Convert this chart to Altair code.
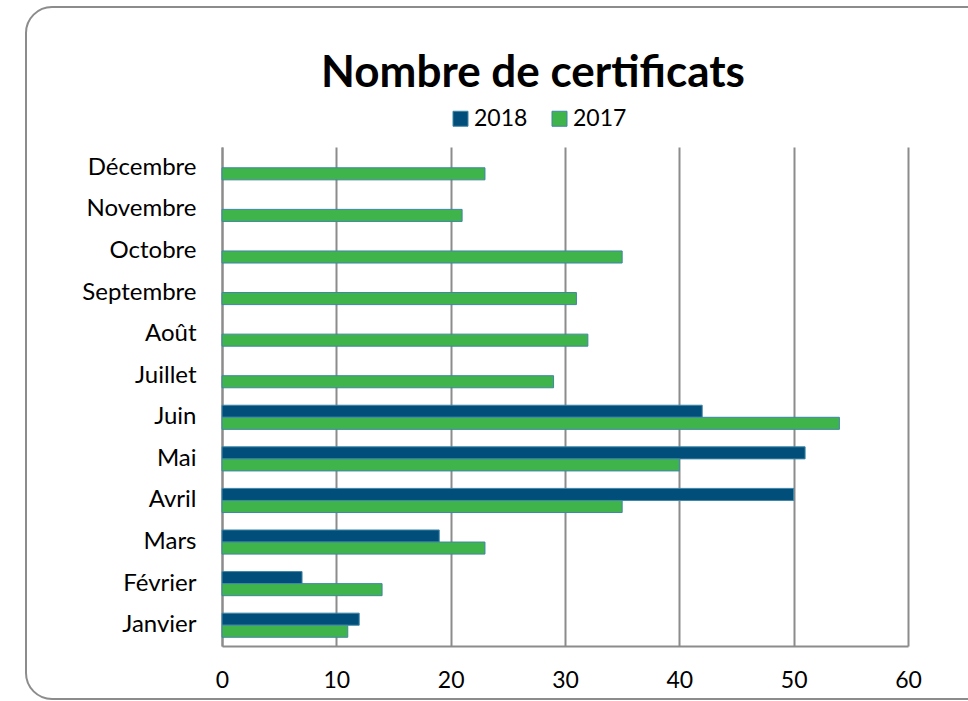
import altair as alt
import pandas as pd

months = ["Janvier", "Février", "Mars", "Avril", "Mai", "Juin",
          "Juillet", "Août", "Septembre", "Octobre", "Novembre", "Décembre"]
v2018 = [12, 7, 19, 50, 51, 42, None, None, None, None, None, None]
v2017 = [11, 14, 23, 35, 40, 54, 29, 32, 31, 35, 21, 23]
series = ["2018", "2017"]
x_ticks = [0, 10, 20, 30, 40, 50, 60]
title_text = "Nombre de certificats"

rows = []
for m, a, b in zip(months, v2018, v2017):
    if a is not None:
        rows.append({"mois": m, "annee": "2018", "valeur": a})
    rows.append({"mois": m, "annee": "2017", "valeur": b})
df = pd.DataFrame(rows)

FONT = "Lato"

bars = alt.Chart(df).mark_bar(stroke="#3f86a6", strokeWidth=1).encode(
    x=alt.X("valeur:Q", scale=alt.Scale(domain=[0, 60], nice=False),
            axis=alt.Axis(values=x_ticks, title=None, grid=True, gridColor="#8c8c8c",
                          gridWidth=2, domain=True, domainColor="#8c8c8c", domainWidth=2,
                          ticks=False, labelFontSize=23, labelPadding=23, labelFont=FONT,
                          labelFlush=False, labelColor="#000000")),
    y=alt.Y("mois:N", sort=months[::-1],
            scale=alt.Scale(paddingInner=0.42, paddingOuter=0.21),
            axis=alt.Axis(title=None, domain=True, domainColor="#8c8c8c", domainWidth=2,
                          ticks=False, labelFontSize=24, labelPadding=26, labelFont=FONT,
                          labelColor="#000000")),
    yOffset=alt.YOffset("annee:N", sort=series),
    color=alt.Color("annee:N", sort=series,
                    scale=alt.Scale(domain=series, range=["#004e79", "#3fb44b"]),
                    legend=alt.Legend(title=None, orient="none", direction="horizontal",
                                      legendX=227, legendY=-40, symbolType="square",
                                      symbolSize=225, symbolStrokeColor="#3f86a6",
                                      symbolStrokeWidth=1, labelFontSize=23, labelFont=FONT,
                                      labelColor="#000000", columnPadding=20,
                                      labelOffset=2)),
)

frame = alt.Chart(alt.Data(values=[{}])).mark_rect(
    fill=None, stroke="#8c8c8c", strokeWidth=2, cornerRadius=26
).encode(
    x=alt.value(-196), x2=alt.value(790),
    y=alt.value(-140), y2=alt.value(552),
)

title = alt.Chart(alt.Data(values=[{}])).mark_text(
    text=title_text, font=FONT, fontSize=44, fontWeight="bold", color="#000000",
    align="center", baseline="alphabetic"
).encode(x=alt.value(311), y=alt.value(-60))

chart = alt.layer(frame, bars, title).properties(
    width=686, height=499,
    autosize="none",
    padding={"left": 222, "top": 147, "right": 60, "bottom": 55},
).configure_view(stroke=None)

chart.save("out.html", embed_options={"renderer": "svg", "actions": False})
